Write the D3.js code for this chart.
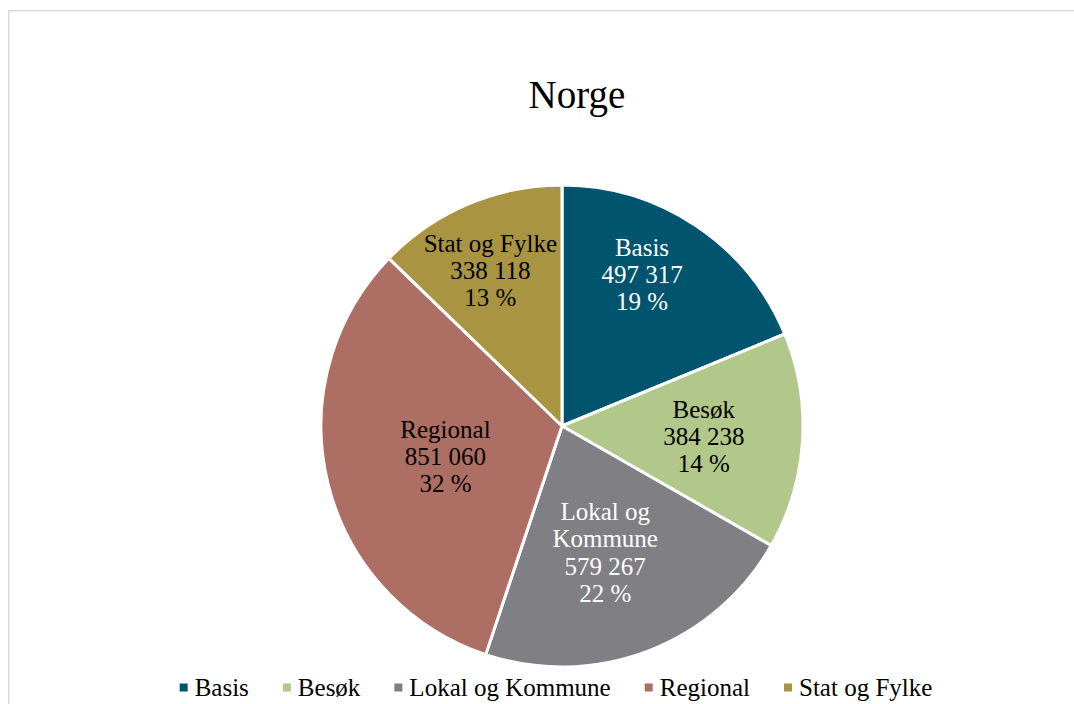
<!DOCTYPE html>
<html><head><meta charset="utf-8">
<script src="https://cdn.jsdelivr.net/npm/d3@7"></script>
<style>html,body{margin:0;padding:0;background:#fff;}</style>
</head><body>
<svg id="c" width="1074" height="704"></svg>
<script>
const categories = ["Basis", "Besøk", "Lokal og Kommune", "Regional", "Stat og Fylke"];
const values = [497317, 384238, 579267, 851060, 338118];
const percentLabels = ["19 %", "14 %", "22 %", "32 %", "13 %"];
const valueLabels = ["497 317", "384 238", "579 267", "851 060", "338 118"];
const nameLines = [["Basis"], ["Besøk"], ["Lokal og", "Kommune"], ["Regional"], ["Stat og Fylke"]];
const colors = ["#01546e", "#b2c78a", "#7f7f84", "#ad6e64", "#a99442"];
const labelColors = ["#ffffff", "#000000", "#ffffff", "#000000", "#000000"];

// layout (not data)
const labelLayout = [[0.71, -5.9], [0.59, 0.7], [0.556, 2.1], [0.50, -1.0], [0.71, -1.8]];
const FONT = "Liberation Serif";

const svg = d3.select("#c");
svg.append("rect").attr("x", 8.75).attr("y", 10.75).attr("width", 1200).attr("height", 800)
  .attr("fill", "#fff").attr("stroke", "#d9d9d9").attr("stroke-width", 1.5);

svg.append("text").attr("x", 577).attr("y", 108).attr("text-anchor", "middle")
  .attr("font-family", FONT).attr("font-size", 39).attr("fill", "#000").text("Norge");

const cx = 562, cy = 426, R = 241;
const g = svg.append("g").attr("transform", `translate(${cx},${cy})`);
const data = categories.map((c, i) => ({ i, name: c, value: values[i] }));
const pie = d3.pie().sort(null).value(d => d.value);
const arcs = pie(data);
const arc = d3.arc().innerRadius(0).outerRadius(R);

g.selectAll("path").data(arcs).join("path")
  .attr("d", arc).attr("fill", d => colors[d.data.i])
  .attr("stroke", "#fff").attr("stroke-width", 3).attr("stroke-linejoin", "round");

const lh = 27.3;
arcs.forEach(a => {
  const i = a.data.i;
  const [k, off] = labelLayout[i];
  const ang = (a.startAngle + a.endAngle) / 2 + off * Math.PI / 180;
  const x = Math.sin(ang) * R * k, y = -Math.cos(ang) * R * k;
  const lines = nameLines[i].concat([valueLabels[i], percentLabels[i]]);
  const t = g.append("text").attr("text-anchor", "middle").attr("font-family", FONT).attr("font-size", 25)
    .attr("fill", labelColors[i]);
  const y0 = y - (lines.length - 1) * lh / 2;
  lines.forEach((l, j) => {
    t.append("tspan").attr("x", x).attr("y", y0 + j * lh).attr("dy", "0.33em").text(l);
  });
});

// legend
const lg = svg.append("g");
let xpos = 0;
categories.forEach((c, i) => {
  const it = lg.append("g");
  it.append("rect").attr("x", 0).attr("y", -4.5).attr("width", 8).attr("height", 8).attr("fill", colors[i]);
  const tx = it.append("text").attr("x", 15).attr("y", 0).attr("dy", "0.33em").attr("font-family", FONT).attr("font-size", 25).attr("fill", "#000").text(c);
  const w = 15 + tx.node().getComputedTextLength();
  it.attr("transform", `translate(${xpos},0)`);
  xpos += w + 34;
});
const totalW = xpos - 34;
lg.attr("transform", `translate(${556 - totalW / 2},688)`);
</script>
</body></html>
